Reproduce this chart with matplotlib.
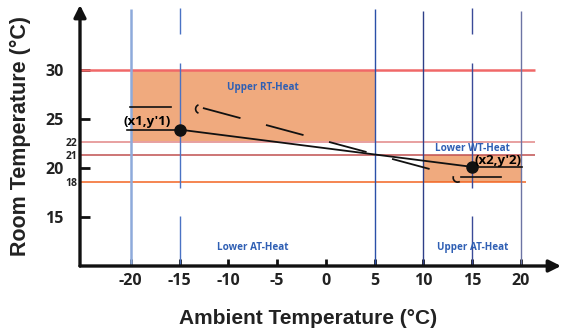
import numpy as np
import matplotlib.pyplot as plt
from matplotlib.patches import Rectangle, Arc

# --- data ---
x_ticks = [-20, -15, -10, -5, 0, 5, 10, 15, 20]
y_ticks = [15, 20, 25, 30]
# small reference levels (drawn positions) and their labels
ref_levels = [22.6, 21.3, 18.6]
ref_labels = ['22', '21', '18']
top_level = 30

# heating zones: (x0, x1, y0, y1)
upper_zone = (-20, 5, 22.6, 30)
lower_zone = (10, 20, 18.6, 21.3)

# vertical boundaries: x, list of (y0, y1) segments
vlines = {
    -20: [(10, 36.2)],
    -15: [(10, 15.1), (17.9, 30.7), (33.6, 36.3)],
    5: [(10, 36.2)],
    10: [(10, 36.0)],
    15: [(10, 15.1), (17.9, 30.7), (33.6, 36.3)],
    20: [(10, 36.0)],
}
vline_colors = {-20: '#8eaadb', -15: '#4a72c4', 5: '#2a50a8',
                10: '#2e3f88', 15: '#3a4a98', 20: '#6c74a4'}

p1 = (-15, 23.9)
p2 = (15, 20.1)
dash_start = (-12.6, 26.1)
dash_end = (11.7, 19.6)

zone_labels = ['Upper RT-Heat', 'Lower WT-Heat', 'Lower AT-Heat', 'Upper AT-Heat']
zone_label_pos = [(-6.5, 28.2), (15, 22.0), (-7.5, 11.9), (15, 11.9)]

TICK_FONT = 'Open Sans'

fig = plt.figure(figsize=(5.64, 3.34), dpi=100)
ax = fig.add_axes([80 / 564, 68 / 334, 481 / 564, 261 / 334])
ax.set_xlim(-25.2, 24.1)
ax.set_ylim(10, 36.6)

# zones
for x0, x1, y0, y1 in [upper_zone, lower_zone]:
    ax.add_patch(Rectangle((x0, y0), x1 - x0, y1 - y0, facecolor='#f0aa7e',
                           edgecolor='none', zorder=1))

# horizontal reference lines
ax.hlines(top_level, -25.2, 21.4, color='#f06868', lw=1.8, zorder=2)
ax.hlines(ref_levels[0], -25.2, 21.4, color='#e8a0a0', lw=1.4, zorder=2)
ax.hlines(ref_levels[1], -25.2, 21.4, color='#c05050', lw=1.1, zorder=2)
ax.hlines(ref_levels[2], -25.2, 20.5, color='#f26522', lw=1.1, zorder=2)

# vertical boundaries
for xv, segs in vlines.items():
    lw = 1.8 if xv == -20 else 1.0
    for y0, y1 in segs:
        ax.vlines(xv, y0, y1, color=vline_colors[xv], lw=lw, zorder=2)

# operating line and points
ax.plot([p1[0], p2[0]], [p1[1], p2[1]], color='#111111', lw=1.3, zorder=3)
ln, = ax.plot([dash_start[0], dash_end[0]], [dash_start[1], dash_end[1]],
              color='#111111', lw=1.3, zorder=3)
ln.set_dashes((28 / 1.3, 19 / 1.3))
ax.plot([p1[0], p2[0]], [p1[1], p2[1]], 'o', color='#111111', ms=8, zorder=4)

# leader lines / marks around the points
ax.plot([-20.4, p1[0]], [p1[1], p1[1]], color='#111111', lw=1.2, zorder=3)
ax.plot([-20.1, -15.9], [26.2, 26.2], color='#111111', lw=1.2, zorder=3)
ax.plot([p2[0], 20.1], [p2[1], p2[1]], color='#111111', lw=1.2, zorder=3)
ax.plot([13.8, 18.0], [19.1, 19.1], color='#111111', lw=1.2, zorder=3)
ax.add_patch(Arc((-12.9, 26.0), 0.9, 0.9, theta1=110, theta2=250,
                 color='#111111', lw=1.2, zorder=3))
ax.add_patch(Arc((13.5, 19.0), 0.9, 0.9, theta1=160, theta2=300,
                 color='#111111', lw=1.2, zorder=3))

ax.text(-20.7, 24.7, "(x1,y'1)", fontsize=9.5, fontweight='bold', family=TICK_FONT,
        ha='left', va='center', zorder=5)
ax.text(15.2, 20.8, "(x2,y'2)", fontsize=9.5, fontweight='bold', family=TICK_FONT,
        ha='left', va='center', zorder=5)

for lab, (lx, ly) in zip(zone_labels, zone_label_pos):
    ax.text(lx, ly, lab, fontsize=7.1, fontweight='bold', family=TICK_FONT,
            color='#2f5fb4', ha='center', va='center', zorder=5)

# axes with arrows
for s in ax.spines.values():
    s.set_visible(False)
ax.annotate('', xy=(1, 0), xytext=(0, 0), xycoords='axes fraction',
            arrowprops=dict(arrowstyle='-|>', lw=2.4, color='#111111',
                            mutation_scale=18, shrinkA=0, shrinkB=0))
ax.annotate('', xy=(0, 1), xytext=(0, 0), xycoords='axes fraction',
            arrowprops=dict(arrowstyle='-|>', lw=2.4, color='#111111',
                            mutation_scale=18, shrinkA=0, shrinkB=0))

ax.set_xticks(x_ticks)
ax.set_xticklabels([str(v) for v in x_ticks], fontsize=11.5, fontweight='bold',
                   family=TICK_FONT, color='#222222')
ax.set_yticks(y_ticks)
ax.set_yticklabels([str(v) for v in y_ticks], fontsize=11.5, fontweight='bold',
                   family=TICK_FONT, color='#222222')
ax.set_yticks(ref_levels, minor=True)
ax.set_yticklabels(ref_labels, minor=True, fontsize=7.5, fontweight='bold',
                   family=TICK_FONT, color='#222222')
ax.tick_params(axis='x', direction='in', length=5, width=2, pad=5, color='#111111')
ax.tick_params(axis='y', which='major', direction='in', length=7, width=2,
               pad=12, color='#111111')
ax.tick_params(axis='y', which='minor', length=0, pad=2)

ax.set_xlabel('Ambient Temperature (°C)', fontsize=15, fontweight='bold',
              family='Liberation Sans', color='#222222', va='center')
ax.xaxis.set_label_coords((308 - 80) / 481, -(318 - 266) / 261)
ax.set_ylabel('Room Temperature (°C)', fontsize=15.5, fontweight='bold',
              family='Liberation Sans', color='#222222', labelpad=10)

fig.savefig('out.png', dpi=100)
